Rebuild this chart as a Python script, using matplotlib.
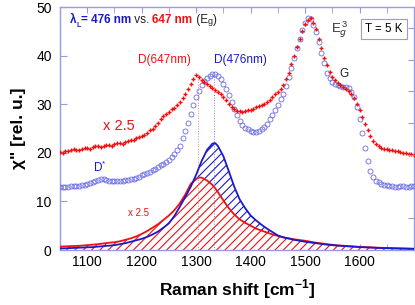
import numpy as np
import matplotlib
matplotlib.use('Agg')
import matplotlib.pyplot as plt
from matplotlib.transforms import IdentityTransform

plt.rcParams['font.family'] = ['Liberation Sans', 'DejaVu Sans']
plt.rcParams['mathtext.fontset'] = 'custom'
plt.rcParams['mathtext.rm'] = 'Liberation Sans'
plt.rcParams['mathtext.bf'] = 'Liberation Sans:bold'
plt.rcParams['hatch.linewidth'] = 0.8

# measured spectra (every 5 cm^-1), 647 nm curve already multiplied by 2.5
shift = np.arange(1050, 1701, 5)
chi_476 = [12.9, 12.9, 13.0, 13.0, 13.1, 13.1, 13.2, 13.2, 13.3, 13.4,
           13.5, 13.8, 14.0, 14.3, 14.5, 14.6, 14.6, 14.4, 14.3, 14.2,
           14.1, 14.1, 14.2, 14.3, 14.4, 14.5, 14.6, 14.7, 14.9, 15.1,
           15.4, 15.6, 15.9, 16.1, 16.4, 16.7, 17.0, 17.4, 17.8, 18.2,
           18.6, 19.2, 19.8, 20.6, 21.5, 23.0, 24.5, 26.2, 28.0, 29.8,
           31.5, 32.8, 34.0, 34.8, 35.4, 35.9, 36.3, 36.2, 35.8, 35.1,
           34.2, 33.1, 31.8, 30.4, 29.0, 27.7, 26.6, 25.8, 25.2, 24.8,
           24.5, 24.3, 24.3, 24.5, 24.8, 25.3, 26.0, 26.9, 27.8, 28.8,
           29.8, 31.0, 32.2, 33.8, 35.5, 37.5, 39.5, 41.5, 43.5, 45.3,
           46.8, 47.8, 47.5, 46.4, 44.8, 42.7, 40.5, 38.4, 36.5, 35.4,
           34.6, 34.2, 33.9, 33.7, 33.6, 33.5, 33.4, 32.6, 31.5, 29.5,
           27.0, 24.0, 21.0, 18.4, 16.2, 15.1, 14.3, 13.9, 13.6, 13.4,
           13.3, 13.2, 13.1, 13.0, 13.0, 13.1, 13.1, 13.0, 13.0, 13.1,
           13.1]
chi_647 = [20.2, 20.0, 20.4, 20.3, 20.5, 20.7, 20.6, 20.5, 20.8, 21.0,
           20.9, 20.8, 21.1, 21.3, 21.3, 21.2, 21.4, 21.6, 21.6, 21.5,
           21.8, 22.0, 22.0, 21.9, 22.2, 22.5, 22.6, 22.7, 23.0, 23.3,
           23.5, 23.6, 24.0, 24.6, 25.0, 25.5, 26.2, 26.9, 27.5, 28.0,
           28.5, 29.0, 29.3, 29.9, 30.5, 31.3, 32.2, 33.2, 34.2, 35.2,
           36.0, 35.6, 35.0, 34.6, 34.2, 33.7, 33.4, 33.0, 32.6, 32.1,
           31.5, 30.8, 30.0, 29.4, 29.0, 28.7, 28.6, 28.4, 28.6, 28.8,
           28.9, 29.1, 29.4, 29.6, 29.8, 30.1, 30.4, 30.9, 31.4, 32.0,
           32.5, 33.2, 34.0, 35.2, 36.5, 38.2, 40.0, 41.8, 43.5, 45.0,
           46.5, 47.3, 47.8, 46.8, 45.5, 43.5, 41.5, 39.6, 38.0, 36.7,
           35.6, 34.9, 34.3, 33.9, 33.5, 33.1, 32.8, 32.1, 31.3, 30.1,
           28.8, 27.4, 26.0, 24.7, 23.5, 22.5, 21.8, 21.3, 21.0, 20.8,
           20.7, 20.6, 20.5, 20.4, 20.3, 20.1, 20.0, 19.9, 19.8, 19.7,
           19.6]

# fitted D-band profiles
fit_x = [1050, 1070, 1090, 1100, 1110, 1120, 1130, 1140, 1150, 1160, 1170,
         1180, 1190, 1200, 1210, 1220, 1230, 1240, 1250, 1260, 1270, 1280,
         1290, 1300, 1305, 1310, 1320, 1330, 1335, 1340, 1350, 1360, 1370,
         1380, 1390, 1400, 1410, 1420, 1430, 1440, 1450, 1460, 1480, 1500,
         1520, 1540, 1560, 1580, 1600, 1620, 1640, 1660, 1680, 1700]
fit_647 = [0.7, 0.8, 0.9, 1.0, 1.1, 1.2, 1.35, 1.5, 1.6, 1.8, 2.1,
           2.4, 2.8, 3.3, 3.9, 4.6, 5.3, 6.2, 7.1, 8.2, 9.6, 11.4,
           13.6, 14.6, 14.9, 14.9, 14.3, 13.4, 12.7, 11.9, 10.2, 8.6, 7.3,
           6.3, 5.6, 5.0, 4.4, 4.0, 3.6, 3.2, 2.9, 2.6, 2.2, 1.9,
           1.5, 1.2, 0.95, 0.8, 0.65, 0.55, 0.45, 0.38, 0.3, 0.25]
fit_476 = [0.3, 0.4, 0.5, 0.55, 0.6, 0.7, 0.8, 0.9, 1.0, 1.2, 1.4,
           1.7, 2.0, 2.3, 2.7, 3.2, 3.8, 4.6, 5.5, 7.0, 8.9, 10.9,
           13.0, 15.5, 16.9, 18.3, 20.6, 21.9, 22.0, 21.4, 19.3, 16.2, 13.0,
           10.4, 8.6, 7.1, 6.1, 5.2, 4.4, 3.7, 3.0, 2.6, 2.1, 1.7,
           1.4, 1.1, 0.9, 0.75, 0.6, 0.5, 0.4, 0.35, 0.3, 0.25]

peak_647 = 1303
peak_476 = 1333

red = '#f01010'
blue = '#1a1acc'
lblue = '#6a6ae6'
frame = '#9a9ae0'

fig = plt.figure(figsize=(4.15, 3.05), dpi=100)
ax = fig.add_axes([0.1446, 0.1803, 0.853, 0.7967])

# hatched fit areas
ax.fill_between(fit_x, 0, fit_476, facecolor='none', edgecolor=blue,
                hatch='////', linewidth=0, zorder=1)
ax.fill_between(fit_x, 0, fit_647, facecolor='white', edgecolor=red,
                hatch='////', linewidth=0, zorder=2)
ax.plot(fit_x, fit_476, color=blue, lw=1.3, zorder=4)
ax.plot(fit_x, fit_647, color=red, lw=1.3, zorder=3)

ax.plot([peak_647, peak_647], [0, 36.2], ls=':', color='#f08080', lw=0.7, zorder=3)
ax.plot([peak_476, peak_476], [0, 36.4], ls=':', color='#8080e0', lw=0.7, zorder=3)

# data
ax.plot(shift, chi_476, 'o', mfc='none', mec=lblue, ms=3.6, mew=0.6, zorder=5)
ax.plot(shift, chi_647, '+', color=red, ms=2.6, mew=1.0, zorder=6)

ax.set_xlim(1050, 1700)
ax.set_ylim(0, 50)
ax.set_xticks([1100, 1200, 1300, 1400, 1500, 1600])
ax.set_xticks(np.arange(1050, 1701, 50), minor=True)
ax.set_yticks([0, 10, 20, 30, 40, 50])
ax.tick_params(axis='both', which='both', direction='in', color=frame,
               labelsize=10, top=True)
ax.tick_params(axis='x', which='both', length=4)
ax.tick_params(axis='y', length=5, pad=6)
for s in ax.spines.values():
    s.set_color(frame)
    s.set_linewidth(1.0)

ax2 = ax.twinx()
ax2.set_ylim(0, 7.66)
ax2.set_yticks(np.arange(1, 8))
ax2.tick_params(axis='y', direction='in', color=frame, length=4, labelright=False)
for s in ax2.spines.values():
    s.set_visible(False)

ax.set_xlabel('Raman shift [cm$^{\\mathbf{-1}}$]', fontsize=12.5, fontweight='bold', labelpad=6)
ax.set_ylabel('\u03c7" [rel. u.]', fontsize=12.5, fontweight='bold', labelpad=7)

# annotations
ax.text(1242, 38.5, 'D(647nm)', color=red, fontsize=8.5, ha='center')
ax.text(1382, 38.5, 'D(476nm)', color=blue, fontsize=8.5, ha='center')
ax.text(1158, 24.6, 'x 2.5', color=red, fontsize=10.5, ha='center')
ax.text(1195, 7.0, 'x 2.5', color=red, fontsize=7, ha='center')
ax.text(1123, 16.0, 'D$^{*}$', color=blue, fontsize=8.5, ha='center')
ax.text(1571, 35.5, 'G', color='#222222', fontsize=8.5, ha='center')
ax.text(1547, 44.8, 'E$_g^{\\,3}$', color='#333333', fontsize=9.5, ha='left')
ax.text(1645, 45.4, 'T = 5 K', fontsize=8.3, ha='center', va='center',
        bbox=dict(boxstyle='square,pad=0.35', fc='white', ec=frame, lw=0.8))

# multi-colour header line, pieces placed one after another in pixels
pieces = [('\u03bb', blue, 'bold', 8.5, 0),
          ('L', blue, 'bold', 5, -4),
          ('= 476 nm', blue, 'bold', 8.5, 0),
          (' vs. ', '#222222', 'normal', 8.5, 0),
          ('647 nm', red, 'bold', 8.5, 0),
          (' (E', '#222222', 'normal', 8.5, 0),
          ('g', '#222222', 'normal', 6.5, -1),
          (')', '#222222', 'normal', 8.5, 0)]
fig.canvas.draw()
renderer = fig.canvas.get_renderer()
xpos = 70
for txt, col, wt, fs, dy in pieces:
    t = fig.text(xpos, 305 - 23 + dy, txt, color=col, fontweight=wt, fontsize=fs,
                 transform=IdentityTransform(), va='baseline')
    xpos += t.get_window_extent(renderer).width

fig.savefig('out.png', dpi=100)
